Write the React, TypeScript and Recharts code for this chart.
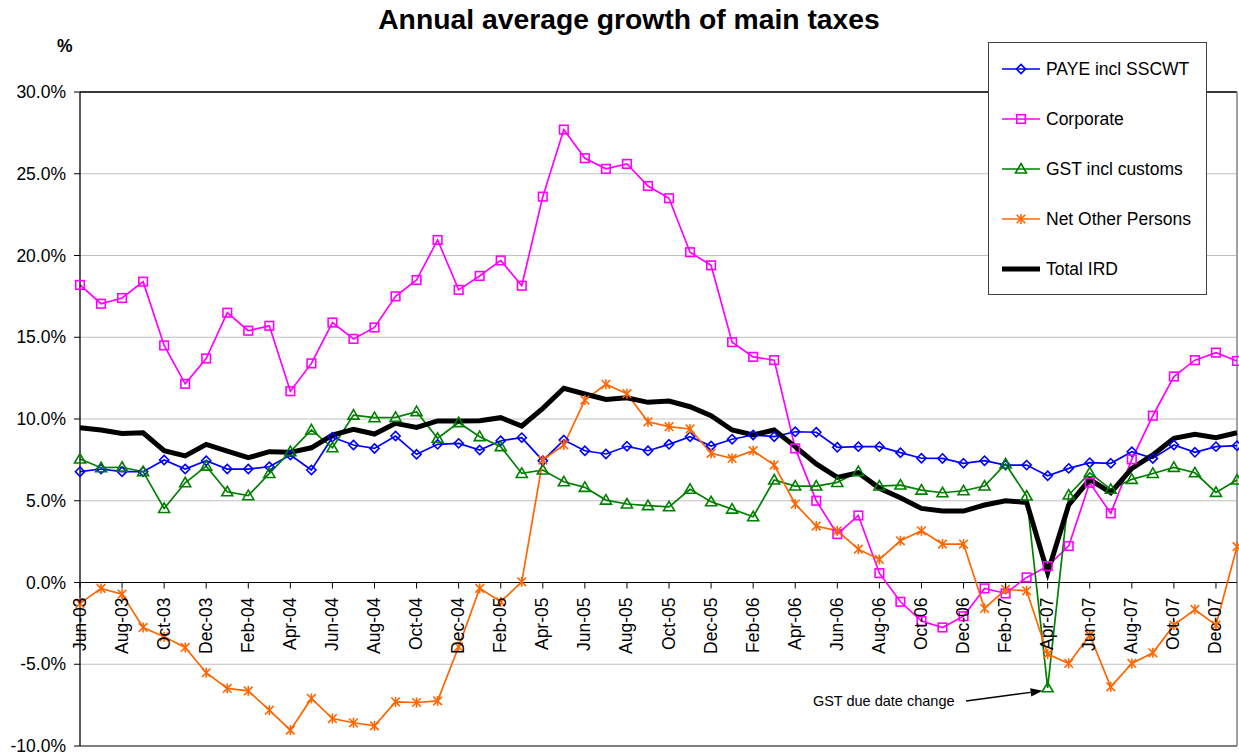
import React from "react";
import { LineChart, Line, XAxis, YAxis, CartesianGrid, ReferenceLine } from "recharts";

// ─── Data ─────────────────────────────────────────────────────────────────────
const months = [
  "Jun-03", "Jul-03", "Aug-03", "Sep-03", "Oct-03", "Nov-03", "Dec-03",
  "Jan-04", "Feb-04", "Mar-04", "Apr-04", "May-04", "Jun-04", "Jul-04", "Aug-04", "Sep-04", "Oct-04", "Nov-04", "Dec-04",
  "Jan-05", "Feb-05", "Mar-05", "Apr-05", "May-05", "Jun-05", "Jul-05", "Aug-05", "Sep-05", "Oct-05", "Nov-05", "Dec-05",
  "Jan-06", "Feb-06", "Mar-06", "Apr-06", "May-06", "Jun-06", "Jul-06", "Aug-06", "Sep-06", "Oct-06", "Nov-06", "Dec-06",
  "Jan-07", "Feb-07", "Mar-07", "Apr-07", "May-07", "Jun-07", "Jul-07", "Aug-07", "Sep-07", "Oct-07", "Nov-07", "Dec-07",
  "Jan-08",
];

const paye = [
  6.78, 6.94, 6.78, 6.78, 7.49, 6.94, 7.45, 6.94, 6.94, 7.08,
  7.8, 6.88, 8.88, 8.41, 8.2, 8.96, 7.84, 8.45, 8.51, 8.1,
  8.67, 8.86, 7.45, 8.71, 8.06, 7.86, 8.33, 8.06, 8.45, 8.92,
  8.35, 8.76, 9.02, 8.92, 9.22, 9.19, 8.27, 8.31, 8.31, 7.94,
  7.6, 7.59, 7.29, 7.45, 7.18, 7.18, 6.53, 6.98, 7.33, 7.29,
  8.0, 7.59, 8.41, 7.96, 8.31, 8.37,
];

const corporate = [
  18.2, 17.05, 17.4, 18.4, 14.5, 12.15, 13.7, 16.5, 15.4, 15.7,
  11.7, 13.4, 15.9, 14.9, 15.6, 17.5, 18.5, 20.95, 17.9, 18.75,
  19.7, 18.15, 23.6, 27.7, 25.95, 25.3, 25.6, 24.25, 23.5, 20.2,
  19.4, 14.7, 13.8, 13.6, 8.2, 5.0, 2.96, 4.1, 0.57, -1.18,
  -2.36, -2.75, -2.06, -0.36, -0.67, 0.31, 1.0, 2.23, 6.1, 4.23,
  7.53, 10.2, 12.6, 13.6, 14.06, 13.55,
];

const gst = [
  7.55, 7.02, 7.05, 6.78, 4.53, 6.1, 7.12, 5.55, 5.31, 6.67,
  8.0, 9.33, 8.24, 10.24, 10.08, 10.1, 10.45, 8.82, 9.78, 8.92,
  8.31, 6.67, 6.88, 6.16, 5.82, 5.04, 4.8, 4.7, 4.63, 5.7,
  4.94, 4.49, 4.02, 6.27, 5.9, 5.9, 6.12, 6.78, 5.9, 5.96,
  5.65, 5.49, 5.61, 5.9, 7.25, 5.29, -6.44, 5.35, 6.71, 5.7,
  6.31, 6.67, 7.04, 6.71, 5.51, 6.27,
];

const netOther = [
  -1.28, -0.36, -0.71, -2.75, -3.32, -3.97, -5.52, -6.48, -6.63, -7.81,
  -9.03, -7.09, -8.32, -8.58, -8.77, -7.3, -7.34, -7.24, -3.93, -0.36,
  -1.18, 0.04, 7.49, 8.41, 11.16, 12.12, 11.55, 9.83, 9.53, 9.39,
  7.9, 7.59, 8.06, 7.18, 4.8, 3.45, 3.16, 2.04, 1.41, 2.55,
  3.16, 2.35, 2.35, -1.59, -0.42, -0.51, -4.38, -4.95, -3.22, -6.38,
  -4.95, -4.3, -2.61, -1.65, -2.61, 2.19,
];

const totalIrd = [
  9.47, 9.33, 9.12, 9.16, 8.06, 7.74, 8.45, 8.04, 7.63, 8.0,
  7.96, 8.24, 9.02, 9.37, 9.08, 9.74, 9.49, 9.88, 9.88, 9.9,
  10.08, 9.57, 10.65, 11.88, 11.53, 11.2, 11.3, 11.02, 11.1, 10.75,
  10.2, 9.33, 9.02, 9.33, 8.31, 7.25, 6.43, 6.71, 5.76, 5.18,
  4.53, 4.37, 4.37, 4.74, 5.0, 4.9, 0.6, 4.74, 6.31, 5.49,
  6.98, 7.8, 8.82, 9.06, 8.86, 9.16,
];

const yTicks = [-10, -5, 0, 5, 10, 15, 20, 25, 30];

// annotation: arrow tail / head in data units (month index, %)
const annotationText = "GST due date change";
const arrowFrom = { x: 42.12, y: -7.25 };
const arrowTo = { x: 45.76, y: -6.62 };

const data = months.map((m, i) => ({
  idx: i,
  month: m,
  paye: paye[i],
  corporate: corporate[i],
  gst: gst[i],
  netOther: netOther[i],
  total: totalIrd[i],
}));

const xTicks = months.map((_, i) => i).filter((i) => i % 2 === 0);

// ─── Layout ───────────────────────────────────────────────────────────────────
const FONT = "Arial, 'Liberation Sans', sans-serif";
const W = 1239;
const H = 755;
const M_TOP = 92;
const M_BOTTOM = 8;
const X_AXIS_H = 1;
const Y_MIN = -10;
const Y_MAX = 30;
const PLOT_H = H - M_TOP - M_BOTTOM - X_AXIS_H;
const ZERO_Y = M_TOP + (PLOT_H * Y_MAX) / (Y_MAX - Y_MIN);

// ─── Markers ──────────────────────────────────────────────────────────────────
type MarkerKind = "diamond" | "square" | "triangle" | "star" | "none";

function Marker({ kind, cx, cy, color }: { kind: MarkerKind; cx: number; cy: number; color: string }) {
  const sw = 1.6;
  if (kind === "diamond") {
    const r = 4.6;
    return (
      <polygon
        points={`${cx},${cy - r} ${cx + r},${cy} ${cx},${cy + r} ${cx - r},${cy}`}
        fill="none"
        stroke={color}
        strokeWidth={sw}
      />
    );
  }
  if (kind === "square") {
    const r = 4.3;
    return <rect x={cx - r} y={cy - r} width={2 * r} height={2 * r} fill="none" stroke={color} strokeWidth={sw} />;
  }
  if (kind === "triangle") {
    return (
      <polygon
        points={`${cx},${cy - 5.5} ${cx + 5.5},${cy + 4} ${cx - 5.5},${cy + 4}`}
        fill="none"
        stroke={color}
        strokeWidth={sw}
      />
    );
  }
  if (kind === "star") {
    const r = 5;
    const d = 4.3;
    return (
      <g stroke={color} strokeWidth={sw}>
        <line x1={cx} y1={cy - r} x2={cx} y2={cy + r} />
        <line x1={cx - d} y1={cy - d} x2={cx + d} y2={cy + d} />
        <line x1={cx - d} y1={cy + d} x2={cx + d} y2={cy - d} />
      </g>
    );
  }
  return null;
}

const dotRenderer = (kind: MarkerKind, color: string) => (props: any) => {
  const { cx, cy, index } = props;
  if (cx == null || cy == null) return <g key={`d-${index}`} />;
  return (
    <g key={`d-${index}`}>
      <Marker kind={kind} cx={cx} cy={cy} color={color} />
    </g>
  );
};

const series: { key: string; name: string; color: string; width: number; marker: MarkerKind }[] = [
  { key: "paye", name: "PAYE incl SSCWT", color: "#0000FF", width: 1.7, marker: "diamond" },
  { key: "corporate", name: "Corporate", color: "#FF00FF", width: 1.7, marker: "square" },
  { key: "gst", name: "GST incl customs", color: "#008000", width: 1.7, marker: "triangle" },
  { key: "netOther", name: "Net Other Persons", color: "#FF6600", width: 1.7, marker: "star" },
  { key: "total", name: "Total IRD", color: "#000000", width: 5, marker: "none" },
];

// ─── Axis tick sitting on the 0% line ─────────────────────────────────────────
function MonthTick(props: any) {
  const { x, payload } = props;
  return (
    <g>
      <line x1={x} x2={x} y1={ZERO_Y} y2={ZERO_Y + 6} stroke="#000" strokeWidth={1} />
      <text
        transform={`translate(${x + 5.5},${ZERO_Y + 15}) rotate(-90)`}
        textAnchor="end"
        fontSize={17.5}
        fontFamily={FONT}
        fill="#000"
      >
        {months[payload.value]}
      </text>
    </g>
  );
}

function ArrowShape(props: any) {
  const { x1, y1, x2, y2 } = props;
  const a = Math.atan2(y2 - y1, x2 - x1);
  const L = 12;
  const hw = 4.2;
  const bx = x2 - L * Math.cos(a);
  const by = y2 - L * Math.sin(a);
  const p1 = `${bx - hw * Math.sin(a)},${by + hw * Math.cos(a)}`;
  const p2 = `${bx + hw * Math.sin(a)},${by - hw * Math.cos(a)}`;
  return (
    <g>
      <line x1={x1} y1={y1} x2={bx} y2={by} stroke="#000" strokeWidth={1.4} />
      <polygon points={`${x2},${y2} ${p1} ${p2}`} fill="#000" />
      <text x={x1 - 11.5} y={y1 + 4.8} textAnchor="end" fontSize={14.5} fontFamily={FONT} fill="#000">
        {annotationText}
      </text>
    </g>
  );
}

function LegendBox() {
  return (
    <div
      style={{
        position: "absolute",
        left: 988,
        top: 42,
        width: 219,
        height: 253,
        border: "1px solid #404040",
        background: "#fff",
        boxSizing: "border-box",
      }}
    >
      {series.map((s, i) => (
        <div
          key={s.key}
          style={{
            position: "absolute",
            left: 12,
            top: 15 + i * 50,
            height: 22,
            display: "flex",
            alignItems: "center",
            whiteSpace: "nowrap",
          }}
        >
          <svg width={40} height={22} style={{ display: "block" }}>
            <line x1={1} x2={39} y1={11} y2={11} stroke={s.color} strokeWidth={s.width} />
            <Marker kind={s.marker} cx={20} cy={11} color={s.color} />
          </svg>
          <span style={{ marginLeft: 5, fontSize: 17.5, fontFamily: FONT, color: "#000" }}>{s.name}</span>
        </div>
      ))}
    </div>
  );
}

export default function App() {
  return (
    <div style={{ position: "relative", width: W, height: H, fontFamily: FONT, background: "#fff" }}>
      {/* drop the browser's default 8px body margin so the chart fills the window */}
      <style>{"html,body{margin:0;padding:0;}"}</style>
      <div
        style={{
          position: "absolute",
          left: 0,
          width: 1258,
          top: 5,
          textAlign: "center",
          fontSize: 28.3,
          lineHeight: "28px",
          fontWeight: "bold",
          color: "#000",
        }}
      >
        Annual average growth of main taxes
      </div>
      <div
        style={{
          position: "absolute",
          left: 57,
          top: 37,
          fontSize: 17.5,
          lineHeight: "18px",
          fontWeight: "bold",
          color: "#000",
        }}
      >
        %
      </div>
      <LineChart
        width={W}
        height={H}
        data={data}
        margin={{ top: M_TOP, right: 2, bottom: M_BOTTOM, left: 0 }}
        style={{ position: "absolute", left: 0, top: 0 }}
      >
        <CartesianGrid vertical={false} stroke="#c0c0c0" strokeWidth={1} />
        <XAxis
          dataKey="idx"
          type="number"
          domain={[0, months.length - 1]}
          ticks={xTicks}
          interval={0}
          height={X_AXIS_H}
          axisLine={false}
          tickLine={false}
          tick={<MonthTick />}
        />
        <YAxis
          type="number"
          domain={[Y_MIN, Y_MAX]}
          ticks={yTicks}
          interval={0}
          width={80}
          tickSize={6}
          tickMargin={8}
          axisLine={{ stroke: "#000", strokeWidth: 1.3 }}
          tickLine={{ stroke: "#000" }}
          tick={{ fill: "#000", fontSize: 17.5, fontFamily: FONT }}
          tickFormatter={(v: number) => `${v.toFixed(1)}%`}
        />
        <ReferenceLine y={Y_MAX} stroke="#000" strokeWidth={1.3} />
        <ReferenceLine y={Y_MIN} stroke="#808080" strokeWidth={2} />
        <ReferenceLine x={months.length - 1} stroke="#808080" strokeWidth={1.5} />
        <ReferenceLine y={0} stroke="#000" strokeWidth={1.2} />
        {series.map((s) => (
          <Line
            key={s.key}
            type="linear"
            dataKey={s.key}
            name={s.name}
            stroke={s.color}
            strokeWidth={s.width}
            dot={s.marker === "none" ? false : dotRenderer(s.marker, s.color)}
            activeDot={false}
            isAnimationActive={false}
          />
        ))}
        <ReferenceLine segment={[arrowFrom, arrowTo]} shape={<ArrowShape />} />
      </LineChart>
      <LegendBox />
    </div>
  );
}
